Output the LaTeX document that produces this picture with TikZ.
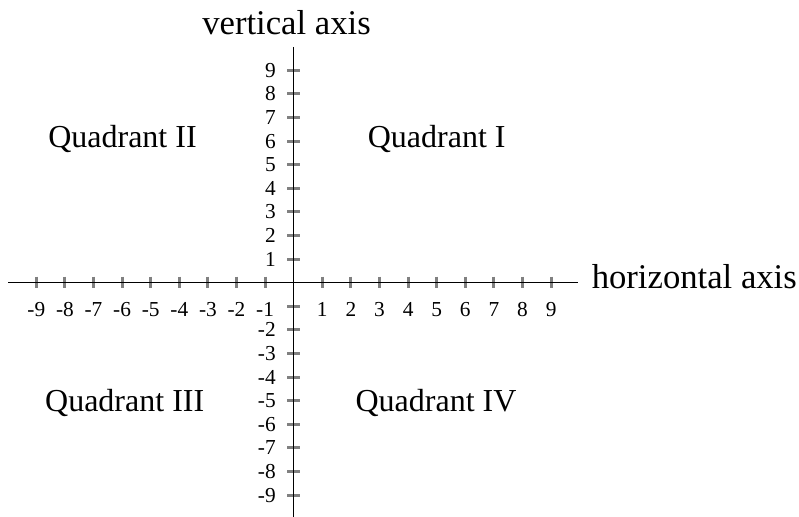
\documentclass[tikz,border=0pt]{standalone}
\usepackage{fontspec}
\setmainfont{Liberation Serif}
\begin{document}
\begin{tikzpicture}[x=0.75pt,y=-0.75pt,
  axisline/.style={black, line width=0.8pt},
  tickmark/.style={draw=black!50, line width=2.2pt},
  ticklabel/.style={inner sep=0pt, font=\fontsize{16}{19}\selectfont},
  quadlabel/.style={inner sep=0pt, anchor=base, font=\fontsize{24}{28}\selectfont},
  axislabel/.style={inner sep=0pt, anchor=base, font=\fontsize{26}{30}\selectfont}]
\useasboundingbox (0,0) rectangle (799,517);
% axes
\coordinate (O) at (293.7,282.7);
\coordinate (xl) at (8,282.7);
\coordinate (xr) at (578,282.7);
\coordinate (yt) at (293.7,47);
\coordinate (yb) at (293.7,517);
% ticks
\foreach \i in {1,...,9} {
  \draw[tickmark] (293.7+28.6*\i,276.7) -- (293.7+28.6*\i,288);
  \draw[tickmark] (293.7-28.6*\i,276.7) -- (293.7-28.6*\i,288);
  \draw[tickmark] (287.3,282.7-23.6*\i) -- (300,282.7-23.6*\i);
  \draw[tickmark] (287.3,282.7+23.6*\i) -- (300,282.7+23.6*\i);
  \node[ticklabel, anchor=base] (hp\i) at (293.7+28.6*\i,316.5) {\i};
  \node[ticklabel, anchor=base] (hn\i) at (293.7-28.6*\i,316.5) {-\i};
  \node[ticklabel, anchor=east] (vp\i) at (276,282.7-23.6*\i) {\i};
}
\foreach \i in {2,...,9} {
  \node[ticklabel, anchor=east] (vn\i) at (276,282.7+23.6*\i) {-\i};
}
\draw[axisline] (xl) -- (xr);
\draw[axisline] (yt) -- (yb);
% labels
\node[axislabel] (vlab) at (286.5,35) {vertical axis};
\node[axislabel, anchor=base west] (hlab) at (591.5,288.3) {horizontal axis};
\node[quadlabel] (q2) at (122.5,147.7) {Quadrant II};
\node[quadlabel] (q1) at (436.7,147.7) {Quadrant I};
\node[quadlabel] (q3) at (124.7,411.7) {Quadrant III};
\node[quadlabel] (q4) at (436,411.7) {Quadrant IV};
\end{tikzpicture}
\end{document}
